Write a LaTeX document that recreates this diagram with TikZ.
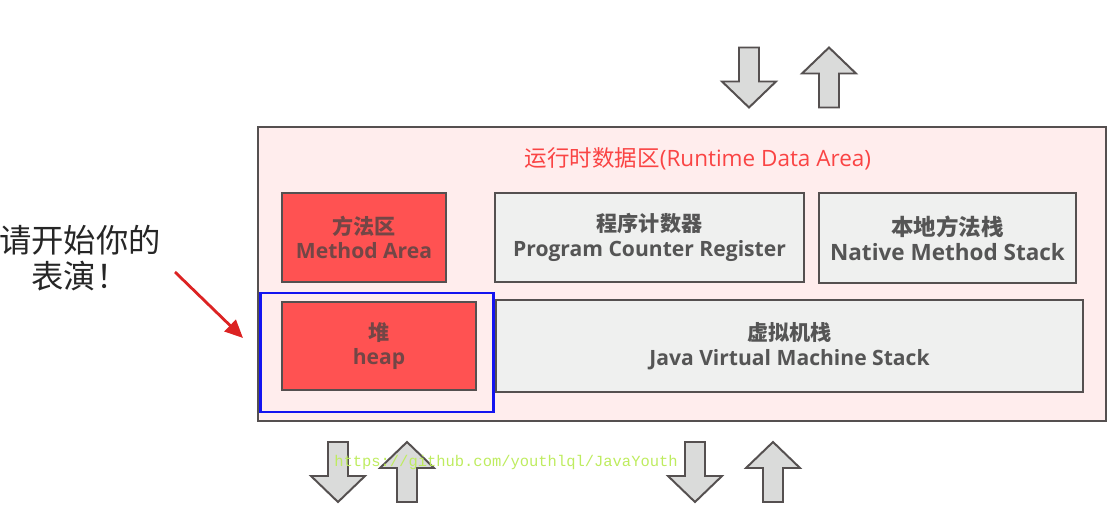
\documentclass[tikz,border=0pt]{standalone}
\usepackage{fontspec}
\setmainfont{Open Sans}
\newfontfamily\cjk{Noto Sans CJK SC}
\newfontfamily\cjkmid{Noto Sans CJK SC Medium}
\newfontfamily\urlfont{Liberation Mono}
\usetikzlibrary{arrows.meta}
\definecolor{areacolor}{RGB}{255,237,237}
\definecolor{titlecolor}{RGB}{250,68,68}
\definecolor{heapcolor}{RGB}{255,82,82}
\definecolor{stackcolor}{RGB}{239,240,239}
\definecolor{edgecolor}{RGB}{85,80,80}
\definecolor{labelcolor}{RGB}{85,85,85}
\definecolor{hotlabel}{RGB}{115,70,70}
\definecolor{pickcolor}{RGB}{20,20,240}
\definecolor{pointcolor}{RGB}{220,35,35}
\definecolor{blockcolor}{RGB}{218,219,218}
\definecolor{urlcolor}{RGB}{190,236,95}

\begin{document}
\begin{tikzpicture}[
    x=0.025cm, y=-0.025cm,
    part/.style={draw=edgecolor, line width=1.4pt, fill=#1, inner sep=0pt, align=center, text=labelcolor, font=\fontsize{15}{17.5}\selectfont\bfseries},
    hot/.style={part=heapcolor, text=hotlabel},
    block/.style={draw=edgecolor, line width=1.4pt, fill=blockcolor},
    arrow/.style={-{Triangle[length=4.5mm, width=4mm]}, line width=2pt, draw=pointcolor},
    down block/.pic={\draw[block] (-10,-30) -- (10,-30) -- (10,4) -- (27,4) -- (0,30) -- (-27,4) -- (-10,4) -- cycle;},
    up block/.pic={\draw[block] (-10,30) -- (10,30) -- (10,-4) -- (27,-4) -- (0,-30) -- (-27,-4) -- (-10,-4) -- cycle;}
]
    \useasboundingbox (0,0) rectangle (1119,521);

    \node[draw=edgecolor, line width=1.4pt, fill=areacolor, minimum width=21.2cm, minimum height=7.35cm] (area) at (682,274) {};
    \node[text=titlecolor, font=\fontsize{16}{18}\selectfont] (title) at (698,159) {{\cjk 运行时数据区}(Runtime Data Area)};

    \node[hot, minimum width=4.1cm, minimum height=2.225cm] (method) at (364,237.5) {{\cjkmid 方法区}\\Method Area};
    \node[part=stackcolor, minimum width=7.725cm, minimum height=2.225cm] (counter) at (649.5,237.5) {{\cjkmid 程序计数器}\\Program Counter Register};
    \node[part=stackcolor, minimum width=6.425cm, minimum height=2.25cm, font=\fontsize{16}{18}\selectfont\bfseries] (native) at (947.5,238) {{\cjkmid 本地方法栈}\\Native Method Stack};
    \node[hot, minimum width=4.85cm, minimum height=2.2cm] (heap) at (379,346) {{\cjkmid 堆}\\heap};
    \node[part=stackcolor, minimum width=14.675cm, minimum height=2.3cm] (jvm) at (789.5,346) {{\cjkmid 虚拟机栈}\\Java Virtual Machine Stack};
    \node[draw=pickcolor, line width=2.1pt, minimum width=5.8cm, minimum height=2.975cm] (pick) at (377,352.5) {};

    \node[font=\cjk\fontsize{23}{26}\selectfont, align=center, text=black!85] (perform) at (80,258) {请开始你的\\表演！};
    \coordinate (from) at (175,272);
    \coordinate (to) at (243,338);
    \draw[arrow] (from) -- (to);

    % arrows in and out
    \pic (intop) at (749,77.5) {down block};
    \pic (outtop) at (829,77.5) {up block};
    \pic (inleft) at (338,472) {down block};
    \pic (outleft) at (407,472) {up block};
    \pic (inright) at (695,472) {down block};
    \pic (outright) at (773,472) {up block};

    \node[text=urlcolor, font=\urlfont\fontsize{11}{13}\selectfont] (url) at (506,462) {https://github.com/youthlql/JavaYouth};
\end{tikzpicture}
\end{document}
